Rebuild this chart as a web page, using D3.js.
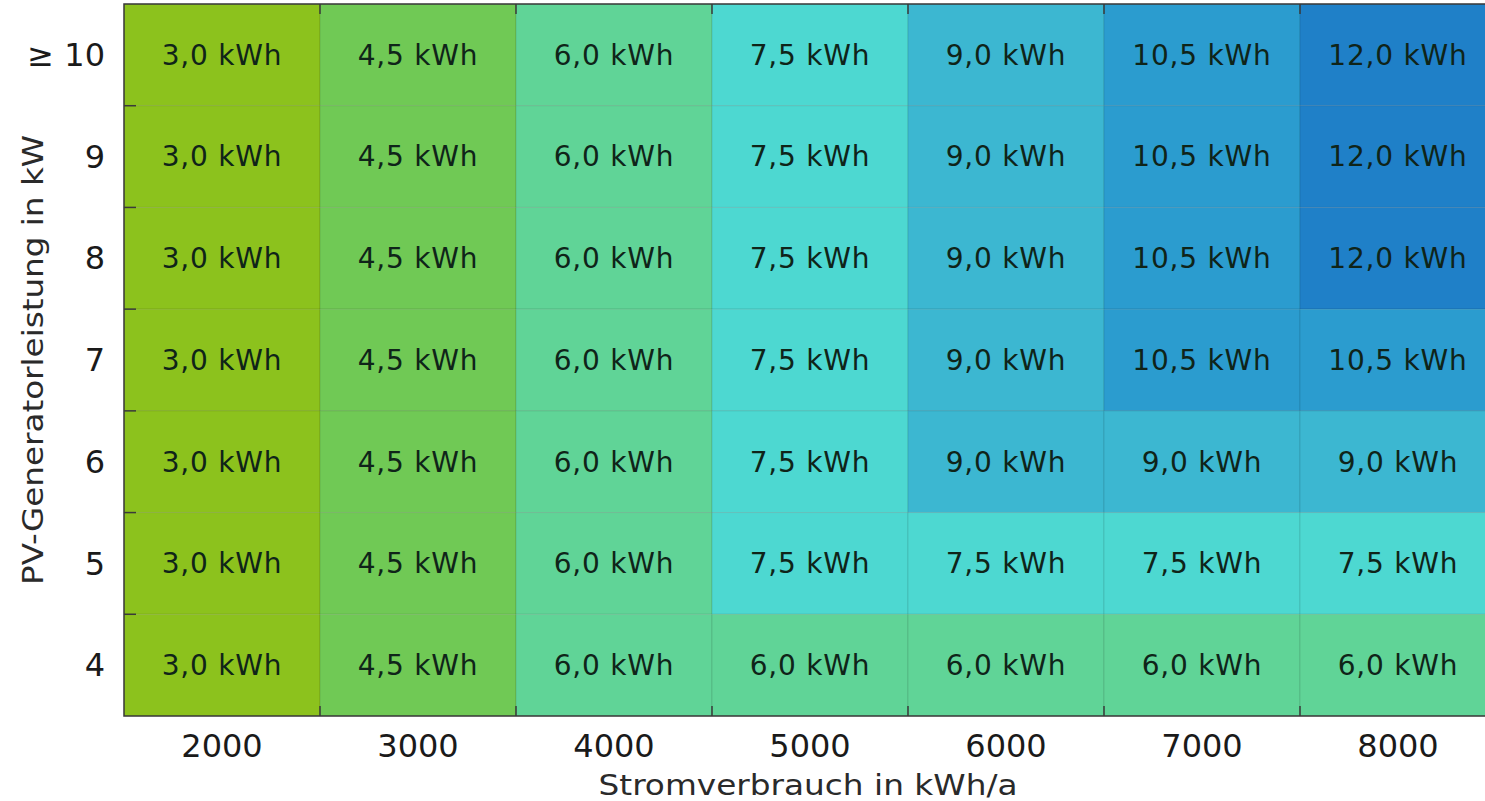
<!DOCTYPE html>
<html>
<head>
<meta charset="utf-8">
<script src="https://cdn.jsdelivr.net/npm/d3@7"></script>
<style>
  body { margin: 0; background: #fff; }
  svg text { font-family: "DejaVu Sans", Verdana, sans-serif; }
</style>
</head>
<body>
<div id="heatmap"></div>
<script>
// Stromverbrauch (x) und PV-Leistung (y)
var verbrauch = ["2000", "3000", "4000", "5000", "6000", "7000", "8000"];
var pvLeistung = ["≥ 10", "9", "8", "7", "6", "5", "4"];

// Speichergroesse in kWh, eine Zeile pro PV-Leistung (oben nach unten)
var row10 = [3.0, 4.5, 6.0, 7.5, 9.0, 10.5, 12.0];
var row9 = [3.0, 4.5, 6.0, 7.5, 9.0, 10.5, 12.0];
var row8 = [3.0, 4.5, 6.0, 7.5, 9.0, 10.5, 12.0];
var row7 = [3.0, 4.5, 6.0, 7.5, 9.0, 10.5, 10.5];
var row6 = [3.0, 4.5, 6.0, 7.5, 9.0, 9.0, 9.0];
var row5 = [3.0, 4.5, 6.0, 7.5, 7.5, 7.5, 7.5];
var row4 = [3.0, 4.5, 6.0, 6.0, 6.0, 6.0, 6.0];

var stufen = [3.0, 4.5, 6.0, 7.5, 9.0, 10.5, 12.0];

drawHeatmap()
function drawHeatmap() {
	var rows = [row10, row9, row8, row7, row6, row5, row4];
	var cells = [];
	for (var i = 0; i < rows.length; i++) {
		for (var j = 0; j < verbrauch.length; j++) {
			cells.push({ row: pvLeistung[i], col: verbrauch[j], value: rows[i][j] });
		}
	}

	var width = 1485,
		height = 801
	var left = 124, top = 4, right = 1496, bottom = 716

	var svg = d3.select("#heatmap")
		.append("svg")
		.attr("width", width)
		.attr("height", height)

	var x = d3.scaleBand().domain(verbrauch).range([left, right]).padding(0)
	var y = d3.scaleBand().domain(pvLeistung).range([top, bottom]).padding(0)

	var color = d3.scaleOrdinal()
		.domain(stufen)
		.range(["#8cc21d", "#70c955", "#60d497", "#4dd8d1", "#3cb7d1", "#2b9ccf", "#1f80c8"])

	// Zellen
	svg.selectAll(".cell")
		.data(cells)
		.enter().append("rect")
		.attr("class", "cell")
		.attr("x", d => x(d.col))
		.attr("y", d => y(d.row))
		.attr("width", x.bandwidth())
		.attr("height", y.bandwidth())
		.attr("fill", d => color(d.value))
		.attr("stroke", "rgba(0,0,0,0.10)")
		.attr("stroke-width", 1)

	svg.selectAll(".lbl")
		.data(cells)
		.enter().append("text")
		.attr("class", "lbl")
		.attr("x", d => x(d.col) + x.bandwidth() / 2)
		.attr("y", d => y(d.row) + y.bandwidth() / 2)
		.attr("dy", "0.35em")
		.attr("text-anchor", "middle")
		.style("font-size", "28px")
		.style("letter-spacing", "0.8px")
		.style("fill", "#0f2419")
		.text(d => d3.format(".1f")(d.value).replace(".", ",") + " kWh")

	// Rahmen
	svg.append("rect")
		.attr("x", left)
		.attr("y", top)
		.attr("width", right - left)
		.attr("height", bottom - top)
		.attr("fill", "none")
		.attr("stroke", "#3a3a3a")
		.attr("stroke-width", 1.5)

	// Ticks zwischen den Kategorien
	var xb = verbrauch.slice(1).map(v => x(v))
	var yb = pvLeistung.slice(1).map(v => y(v))
	var tickG = svg.append("g").attr("stroke", "#3a3a3a").attr("stroke-width", 1.5)
	xb.forEach(function(px) {
		tickG.append("line").attr("x1", px).attr("x2", px).attr("y1", top).attr("y2", top + 10)
		tickG.append("line").attr("x1", px).attr("x2", px).attr("y1", bottom).attr("y2", bottom - 10)
	})
	yb.forEach(function(py) {
		tickG.append("line").attr("x1", left).attr("x2", left + 12).attr("y1", py).attr("y2", py)
	})

	// Achsenbeschriftungen
	svg.selectAll(".xt")
		.data(verbrauch)
		.enter().append("text")
		.attr("x", d => x(d) + x.bandwidth() / 2)
		.attr("y", 746)
		.attr("dy", "0.35em")
		.attr("text-anchor", "middle")
		.style("font-size", "32px")
		.style("fill", "#1a1a1a")
		.text(d => d)

	svg.selectAll(".yt")
		.data(pvLeistung)
		.enter().append("text")
		.attr("x", 105)
		.attr("y", d => y(d) + y.bandwidth() / 2)
		.attr("dy", "0.35em")
		.attr("text-anchor", "end")
		.style("font-size", "32px")
		.style("fill", "#1a1a1a")
		.text(d => d)

	svg.append("text")
		.attr("x", 808)
		.attr("y", 785)
		.attr("dy", "0.35em")
		.attr("text-anchor", "middle")
		.attr("textLength", 419)
		.attr("lengthAdjust", "spacingAndGlyphs")
		.style("font-size", "29px")
		.style("fill", "#2a2a2a")
		.text("Stromverbrauch in kWh/a")

	svg.append("text")
		.attr("transform", "translate(33,360) rotate(-90)")
		.attr("dy", "0.35em")
		.attr("text-anchor", "middle")
		.attr("textLength", 450)
		.attr("lengthAdjust", "spacingAndGlyphs")
		.style("font-size", "29px")
		.style("fill", "#2a2a2a")
		.text("PV-Generatorleistung in kW")
}
</script>
</body>
</html>
